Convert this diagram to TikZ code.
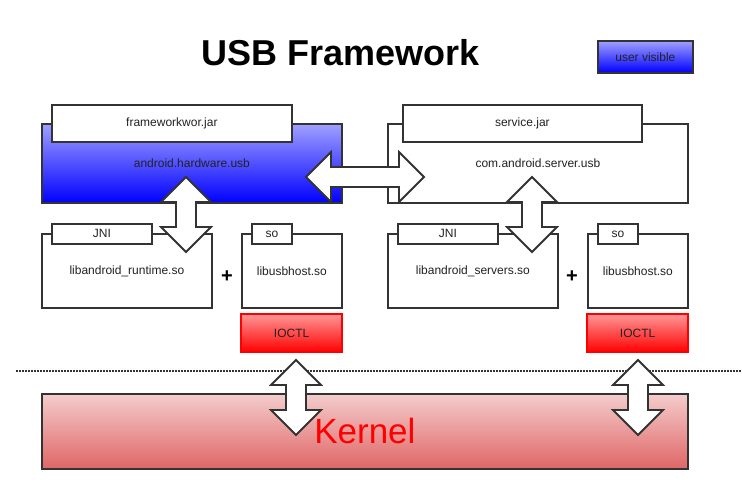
\documentclass[tikz,border=0pt]{standalone}
\usepackage{fontspec}
\setmainfont{Liberation Sans}
\usepackage{tikz}
\usetikzlibrary{positioning}
\definecolor{LineGray}{RGB}{51,51,51}
\definecolor{TextGray}{RGB}{34,34,34}
\definecolor{BlueTop}{RGB}{160,160,255}
\definecolor{UsbBlue}{RGB}{0,0,255}
\definecolor{RedTop}{RGB}{255,150,150}
\definecolor{KernTop}{RGB}{244,204,204}
\definecolor{KernBot}{RGB}{224,102,102}

\begin{document}
\begin{tikzpicture}[x=1pt, y=-1pt,
          box/.style={rectangle, draw=LineGray, line width=1.8pt, fill=white,
                      inner sep=0pt, anchor=north west, text=TextGray,
                      font=\fontsize{12}{14}\selectfont},
          tab/.style={box, minimum height=20pt},
          vis/.style={top color=BlueTop, bottom color=UsbBlue},
          ioctl/.style={box, draw=red, line width=2.2pt, top color=RedTop,
                        bottom color=red, minimum width=101pt, minimum height=38pt},
          sep/.style={draw=LineGray, line width=1.5pt, dash pattern=on 1.5pt off 1.5pt},
          plus/.style={font=\fontsize{20}{20}\selectfont\bfseries},
          pics/dblarr/.style={code={
            \draw[draw=LineGray, line width=1.8pt, fill=white, line join=miter]
              (0,0) -- (25,-25) -- (25,-10) -- (#1-25,-10) -- (#1-25,-25) -- (#1,0)
              -- (#1-25,25) -- (#1-25,10) -- (25,10) -- (25,25) -- cycle;
          }}
        ]
        \useasboundingbox (0,0) rectangle (742,489);

        % Title and legend
        \node[font=\fontsize{36}{36}\selectfont\bfseries] (title) at (341,53) {USB Framework};
        \node[box, vis, minimum width=95pt, minimum height=32pt] (legend) at (597,40) {user visible};

        % Java layer
        \node[box, vis, minimum width=300pt, minimum height=79pt] (hwusb) at (41,123) {android.hardware.usb};
        \node[box, minimum width=240pt, minimum height=37pt] (fwjar) at (51,104) {frameworkwor.jar};
        \node[box, minimum width=300pt, minimum height=79pt] (srvusb) at (387,123) {com.android.server.usb};
        \node[box, minimum width=239pt, minimum height=37pt] (srvjar) at (402,104) {service.jar};

        % Native layer, left
        \node[box, minimum width=170pt, minimum height=74pt] (rtso) at (41,233) {libandroid\_runtime.so};
        \node[tab, minimum width=100pt] (jni1) at (51,223) {JNI};
        \node[box, minimum width=100pt, minimum height=74pt] (usbh1) at (241,233) {libusbhost.so};
        \node[tab, minimum width=40pt] (so1) at (251,223) {so};
        \node[plus] (plus1) at (227,277) {+};
        \node[ioctl] (ioctl1) at (240,313) {IOCTL};

        % Native layer, right
        \node[box, minimum width=170pt, minimum height=74pt] (srvso) at (387,233) {libandroid\_servers.so};
        \node[tab, minimum width=100pt] (jni2) at (397,223) {JNI};
        \node[box, minimum width=100pt, minimum height=74pt] (usbh2) at (587,233) {libusbhost.so};
        \node[tab, minimum width=40pt] (so2) at (597,223) {so};
        \node[plus] (plus2) at (572,277) {+};
        \node[ioctl] (ioctl2) at (586,313) {IOCTL};

        % User / kernel boundary
        \coordinate (sepL) at (16,371);
        \coordinate (sepR) at (742,371);
        \draw[sep] (sepL) -- (sepR);

        % Kernel
        \node[box, top color=KernTop, bottom color=KernBot, minimum width=646pt,
              minimum height=75pt, text=red, font=\fontsize{35}{35}\selectfont]
              (kernel) at (41,393) {Kernel};

        % Block arrows
        \pic at (306,177) {dblarr=118};
        \pic[rotate=-90] at (186,177) {dblarr=75};
        \pic[rotate=-90] at (532,177) {dblarr=75};
        \pic[rotate=-90] at (296,360) {dblarr=75};
        \pic[rotate=-90] at (638,360) {dblarr=75};
\end{tikzpicture}
\end{document}
